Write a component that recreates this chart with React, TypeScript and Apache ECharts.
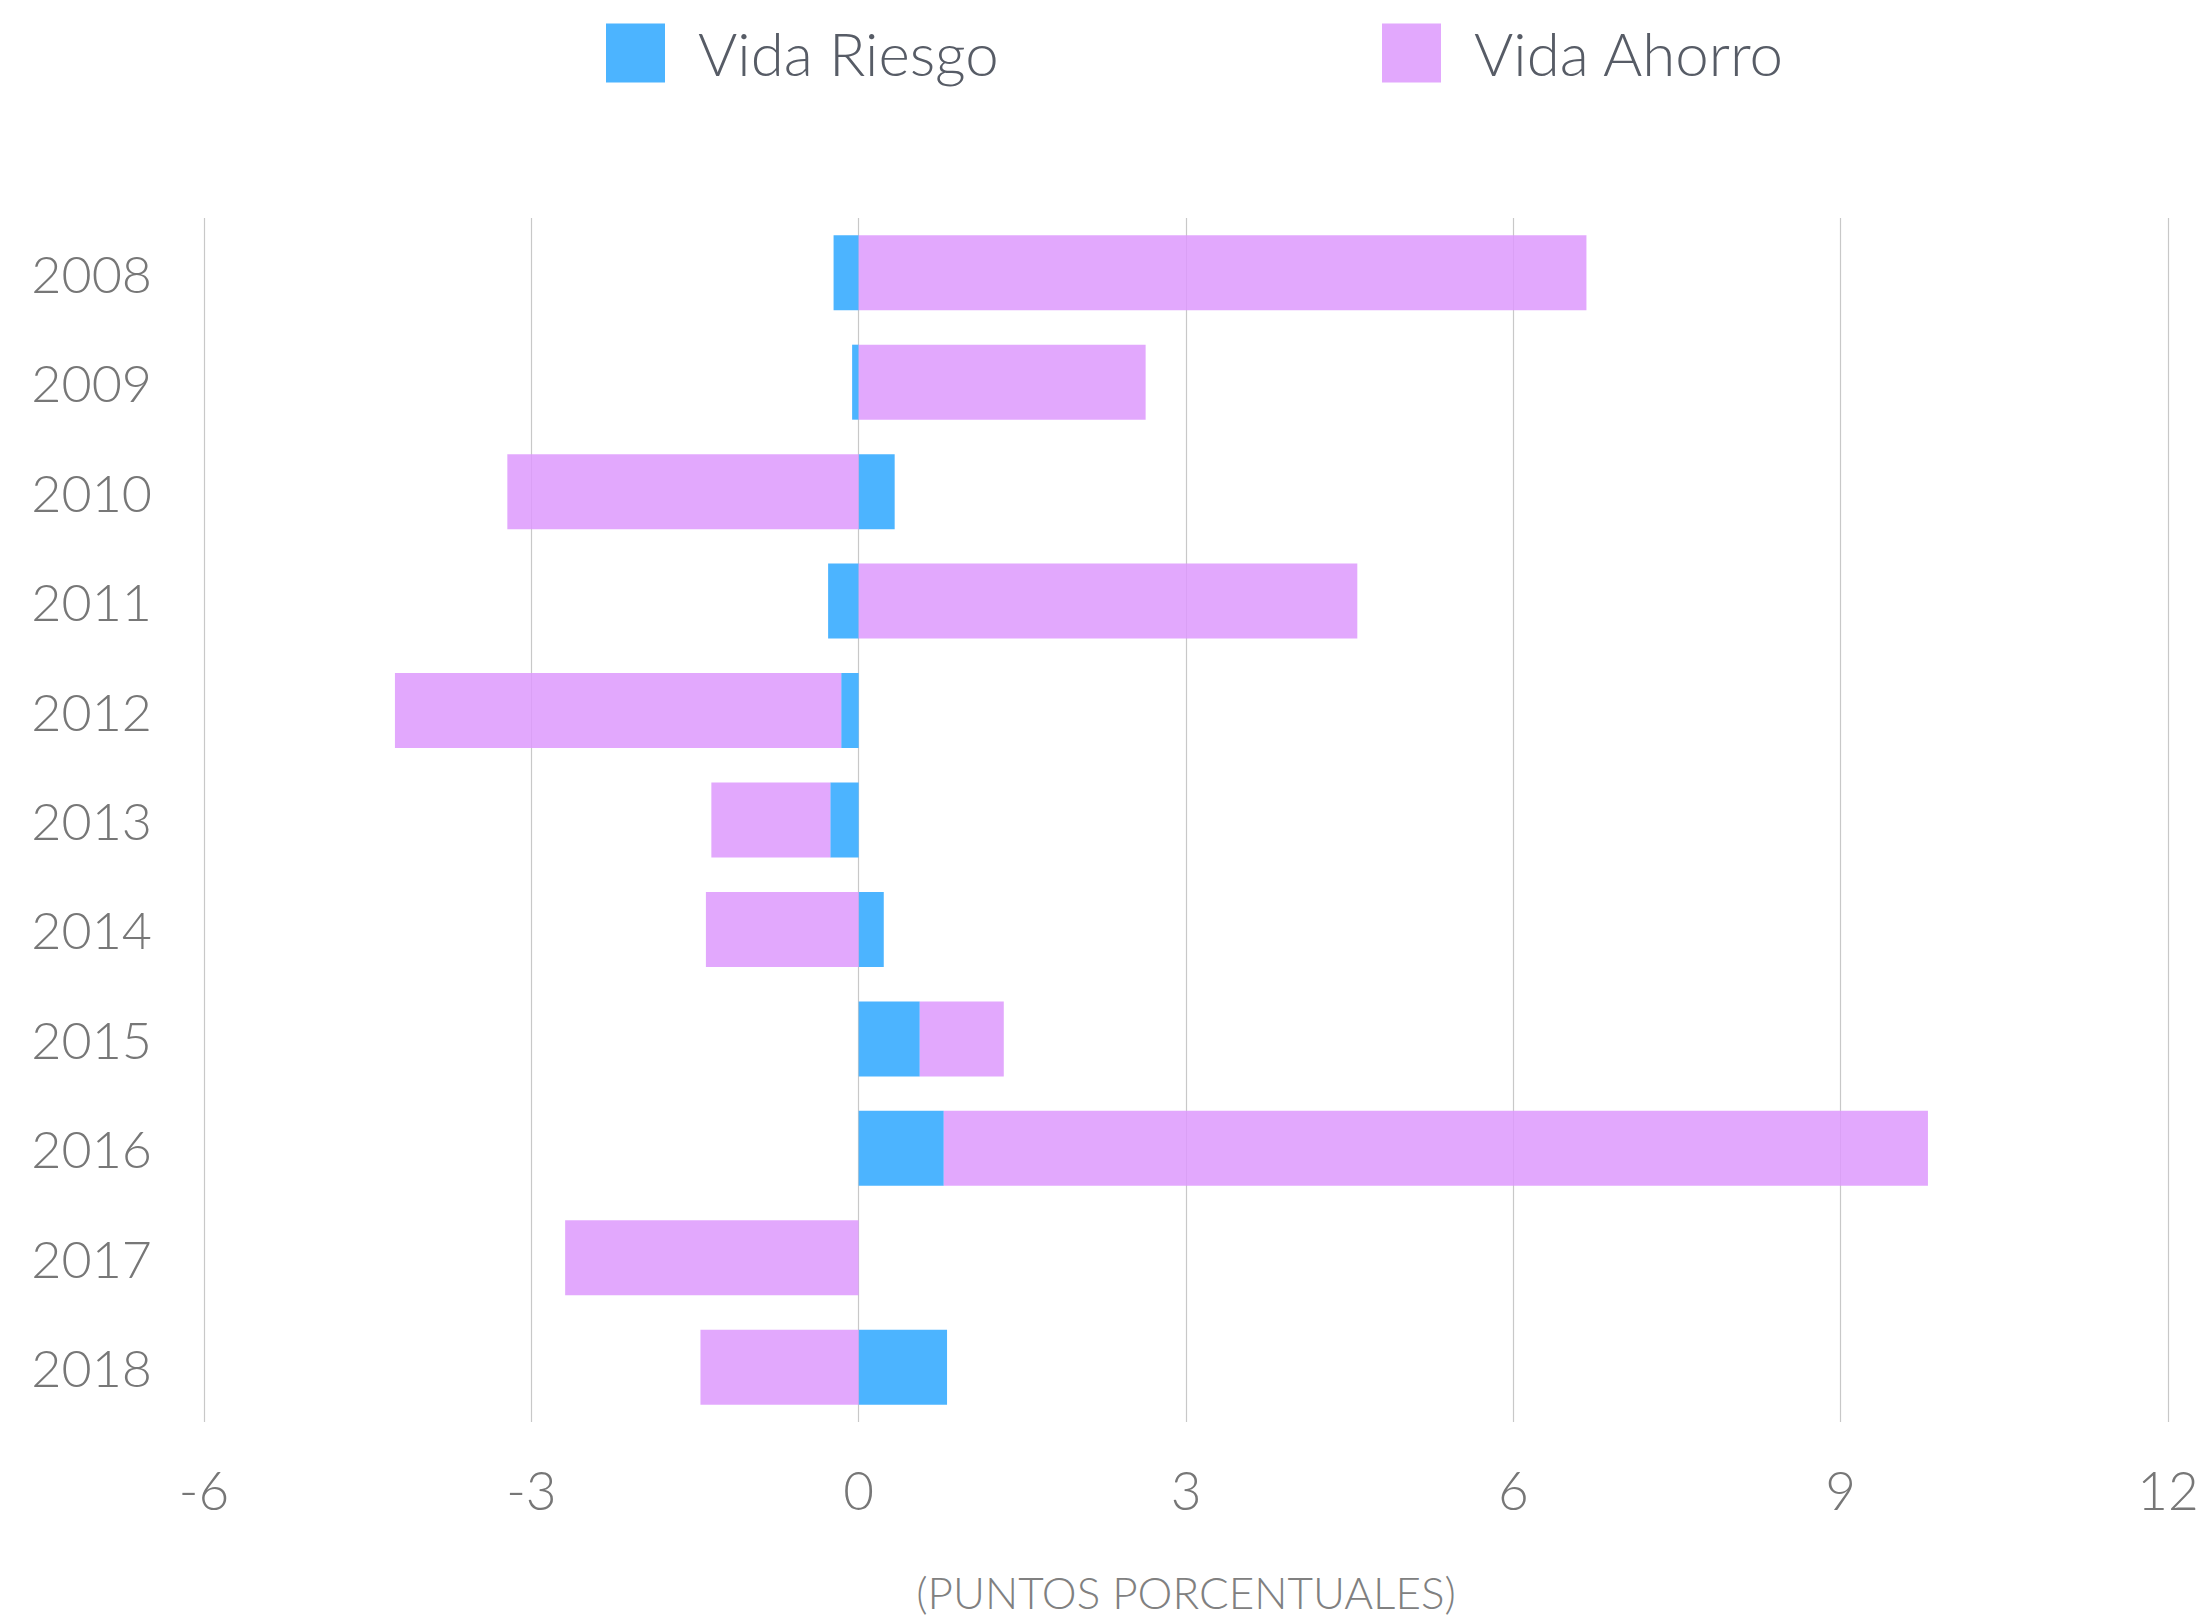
import React, { useEffect, useRef } from "react";
import * as echarts from "echarts";

const years = ["2008", "2009", "2010", "2011", "2012", "2013", "2014", "2015", "2016", "2017", "2018"];
const vidaRiesgo = [-0.23, -0.06, 0.33, -0.28, -0.16, -0.26, 0.23, 0.56, 0.78, 0.0, 0.81];
const vidaAhorro = [6.67, 2.63, -3.22, 4.57, -4.09, -1.09, -1.4, 0.77, 9.02, -2.69, -1.45];
const xTicks = { min: -6, max: 12, interval: 3 };
const axisTitle = "(PUNTOS PORCENTUALES)";

const FONT = "Lato, 'Open Sans', sans-serif";

export default function App() {
  const ref = useRef<HTMLDivElement>(null);
  useEffect(() => {
    if (!ref.current) return;
    const chart = echarts.init(ref.current, undefined, { renderer: "svg" });
    const legendText = { color: "#575c66", fontSize: 60, fontFamily: FONT, fontWeight: 300, padding: [0, 0, 0, 28] };
    chart.setOption({
      animation: false,
      backgroundColor: "#ffffff",
      legend: [
        {
          data: ["Vida Riesgo"],
          left: 606,
          top: 23,
          padding: 0,
          itemWidth: 59,
          itemHeight: 59,
          icon: "rect",
          selectedMode: false,
          textStyle: legendText,
        },
        {
          data: ["Vida Ahorro"],
          left: 1382,
          top: 23,
          padding: 0,
          itemWidth: 59,
          itemHeight: 59,
          icon: "rect",
          selectedMode: false,
          textStyle: legendText,
        },
      ],
      grid: { left: 204, right: 40, top: 218, bottom: 192, containLabel: false },
      xAxis: {
        type: "value",
        min: xTicks.min,
        max: xTicks.max,
        interval: xTicks.interval,
        axisLine: { show: false },
        axisTick: { show: false },
        splitLine: { show: true, lineStyle: { color: "#c8c8c8", width: 1.2 } },
        axisLabel: {
          color: "#777777",
          fontSize: 53,
          fontFamily: FONT,
          fontWeight: 300,
          margin: 39,
          lineHeight: 56,
        },
        name: axisTitle,
        nameLocation: "middle",
        nameGap: 148,
        nameTextStyle: {
          color: "#808080",
          fontSize: 44,
          fontFamily: FONT,
          fontWeight: 300,
          lineHeight: 44,
        },
      },
      yAxis: {
        type: "category",
        data: years,
        inverse: true,
        axisLine: { show: false },
        axisTick: { show: false },
        splitLine: { show: false },
        axisLabel: {
          color: "#777777",
          fontSize: 52,
          fontFamily: FONT,
          fontWeight: 300,
          margin: 52,
        },
      },
      series: [
        {
          name: "Vida Riesgo",
          type: "bar",
          stack: "total",
          barWidth: 75,
          data: vidaRiesgo,
          itemStyle: { color: "#4cb4ff" },
        },
        {
          name: "Vida Ahorro",
          type: "bar",
          stack: "total",
          barWidth: 75,
          data: vidaAhorro,
          itemStyle: { color: "rgba(221,153,253,0.85)" },
        },
      ],
    });
    return () => chart.dispose();
  }, []);
  return (
    <div
      ref={ref}
      style={{ position: "absolute", left: 0, top: 0, width: 2208, height: 1619 }}
    />
  );
}
